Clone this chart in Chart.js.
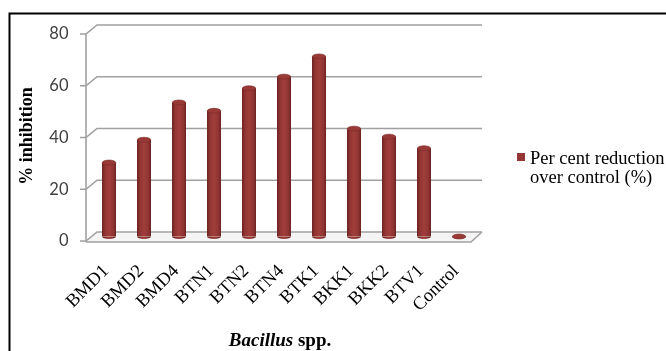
<!DOCTYPE html>
<html>
<head>
<meta charset="utf-8">
<script src="https://cdn.jsdelivr.net/npm/chart.js@4/dist/chart.umd.min.js"></script>
<style>
  html, body { margin: 0; padding: 0; background: #fff; }
  canvas { display: block; }
</style>
</head>
<body>
<canvas id="c" width="666" height="351"></canvas>
<script>
// Bacillus isolates and their per cent inhibition over control
const strains = ['BMD1', 'BMD2', 'BMD4', 'BTN1', 'BTN2', 'BTN4', 'BTK1', 'BKK1', 'BKK2', 'BTV1', 'Control'];
const reduction = [28.6, 37.4, 51.8, 48.6, 57.3, 61.8, 69.6, 41.7, 38.6, 34.1, 0];
const seriesName = 'Per cent reduction over control (%)';
const legendLines = ['Per cent reduction', 'over control (%)'];
const yTicks = [0, 20, 40, 60, 80];
const yTitle = '% inhibition';
const xTitleItalic = 'Bacillus';
const xTitleRest = ' spp.';

// plot box (the plane the cylinders stand in) and half the wall depth
const BOX = { left: 91.5, top: 29.5, right: 476.5, bottom: 236.5 };
const DEPTH = { dx: 5.5, dy: 4.5 };
const GRID = '#a0a0a0';
const BAR_DARK = '#6a2322';
const BAR_MID = '#a03e3b';

function barGradient(ctx) {
  const chart = ctx.chart;
  const xs = chart.scales && chart.scales.x;
  if (!xs || ctx.dataIndex === undefined) return BAR_MID;
  const cx = xs.getPixelForValue(ctx.dataIndex);
  if (!isFinite(cx)) return BAR_MID;
  const hw = 7;
  const g = chart.ctx.createLinearGradient(cx - hw, 0, cx + hw, 0);
  g.addColorStop(0, BAR_DARK);
  g.addColorStop(0.22, '#923533');
  g.addColorStop(0.5, BAR_MID);
  g.addColorStop(0.8, '#923533');
  g.addColorStop(1, BAR_DARK);
  return g;
}

const depthFrame = {
  id: 'depthFrame',
  beforeDraw(chart) {
    const c = chart.ctx;
    c.save();
    c.fillStyle = '#fff';
    c.fillRect(0, 0, chart.width, chart.height);
    // page frame
    c.strokeStyle = '#000';
    c.lineWidth = 2;
    c.beginPath();
    c.moveTo(666, 13.5);
    c.lineTo(9.5, 13.5);
    c.lineTo(9.5, 351);
    c.stroke();
    c.restore();
  },
  beforeDatasetsDraw(chart) {
    const c = chart.ctx;
    const ys = chart.scales.y;
    const a = chart.chartArea;
    const fx = a.left - DEPTH.dx, bx = a.left + DEPTH.dx;
    const frx = a.right - DEPTH.dx, brx = a.right + DEPTH.dx;
    c.save();
    c.strokeStyle = GRID;
    c.lineWidth = 1.6;
    c.lineCap = 'butt';
    // floor
    const f0 = ys.getPixelForValue(0) + DEPTH.dy;
    c.fillStyle = '#f4f4f4';
    c.beginPath();
    c.moveTo(fx, f0); c.lineTo(frx, f0); c.lineTo(brx, f0 - 2 * DEPTH.dy); c.lineTo(bx, f0 - 2 * DEPTH.dy);
    c.closePath();
    c.fill();
    c.beginPath();
    c.moveTo(fx, f0 + 1); c.lineTo(frx, f0 + 1); c.lineTo(brx, f0 - 2 * DEPTH.dy);
    c.stroke();
    // wall gridlines, side-wall diagonals and tick marks
    yTicks.forEach(v => {
      const ym = ys.getPixelForValue(v);
      const fy = ym + DEPTH.dy, by = ym - DEPTH.dy;
      c.beginPath();
      c.moveTo(fx - 6, fy); c.lineTo(fx, fy);
      c.lineTo(bx, by); c.lineTo(brx, by);
      c.stroke();
    });
    // value axis
    c.beginPath();
    c.moveTo(fx, ys.getPixelForValue(yTicks[yTicks.length - 1]) + DEPTH.dy);
    c.lineTo(fx, f0 + 1);
    c.stroke();
    c.restore();
  },
  afterDatasetsDraw(chart) {
    const c = chart.ctx;
    const meta = chart.getDatasetMeta(0);
    c.save();
    meta.data.forEach(el => {
      const p = el.getProps(['x', 'y', 'base', 'width'], true);
      if (![p.x, p.y, p.base, p.width].every(isFinite)) return;
      const rx = p.width / 2, ry = 2.4;
      const g = c.createLinearGradient(p.x - rx, 0, p.x + rx, 0);
      g.addColorStop(0, BAR_DARK);
      g.addColorStop(0.5, BAR_MID);
      g.addColorStop(1, BAR_DARK);
      // rounded foot
      c.fillStyle = g;
      c.beginPath();
      c.ellipse(p.x, p.base, rx, ry, 0, 0, Math.PI);
      c.fill();
      // top cap
      c.fillStyle = '#9a3a37';
      c.strokeStyle = '#7e2c2a';
      c.lineWidth = 0.7;
      c.beginPath();
      c.ellipse(p.x, p.y, Math.max(rx - 0.4, 0.5), ry, 0, 0, Math.PI * 2);
      c.fill();
      c.stroke();
    });
    c.restore();
  },
  afterDraw(chart) {
    const c = chart.ctx;
    c.save();
    c.fillStyle = '#000';
    // value axis title
    c.font = 'bold 18px "Liberation Serif"';
    c.textAlign = 'center';
    c.textBaseline = 'middle';
    c.translate(27, 136);
    c.rotate(-Math.PI / 2);
    c.fillText(yTitle, 0, 0);
    c.setTransform(1, 0, 0, 1, 0, 0);
    // category axis title
    c.textBaseline = 'alphabetic';
    c.textAlign = 'left';
    c.font = 'italic bold 19px "Liberation Serif"';
    const w1 = c.measureText(xTitleItalic).width;
    c.font = 'bold 19px "Liberation Serif"';
    const w2 = c.measureText(xTitleRest).width;
    const x0 = 280 - (w1 + w2) / 2;
    c.font = 'italic bold 19px "Liberation Serif"';
    c.fillText(xTitleItalic, x0, 346);
    c.font = 'bold 19px "Liberation Serif"';
    c.fillText(xTitleRest, x0 + w1, 346);
    // legend
    c.fillStyle = '#953735';
    c.fillRect(517, 153, 8, 8);
    c.fillStyle = '#000';
    c.font = '18.5px "Liberation Serif"';
    c.fillText(legendLines[0], 530, 164);
    c.fillText(legendLines[1], 530, 183);
    c.restore();
  }
};

new Chart(document.getElementById('c'), {
  type: 'bar',
  data: {
    labels: strains,
    datasets: [{
      label: seriesName,
      data: reduction,
      backgroundColor: barGradient,
      borderWidth: 0,
      categoryPercentage: 1,
      barPercentage: 0.4
    }]
  },
  options: {
    responsive: false,
    animation: false,
    events: [],
    layout: { padding: { left: 0, top: BOX.top, right: 666 - BOX.right, bottom: 0 } },
    plugins: { legend: { display: false }, tooltip: { enabled: false } },
    scales: {
      x: {
        grid: { display: false },
        border: { display: false },
        ticks: {
          autoSkip: false,
          minRotation: 45,
          maxRotation: 45,
          padding: 16,
          labelOffset: -3,
          color: '#000',
          font: { family: '"Liberation Serif"', size: 18.5 }
        },
        afterFit(s) { s.height = 351 - BOX.bottom; }
      },
      y: {
        min: 0,
        max: 80,
        grid: { display: false },
        border: { display: false },
        afterBuildTicks(s) { s.ticks = yTicks.map(v => ({ value: v })); },
        ticks: {
          padding: 15,
          labelOffset: DEPTH.dy,
          color: '#404040',
          font: { family: 'Lato', size: 16.5 }
        },
        afterFit(s) { s.width = BOX.left; }
      }
    }
  },
  plugins: [depthFrame]
});
</script>
</body>
</html>
